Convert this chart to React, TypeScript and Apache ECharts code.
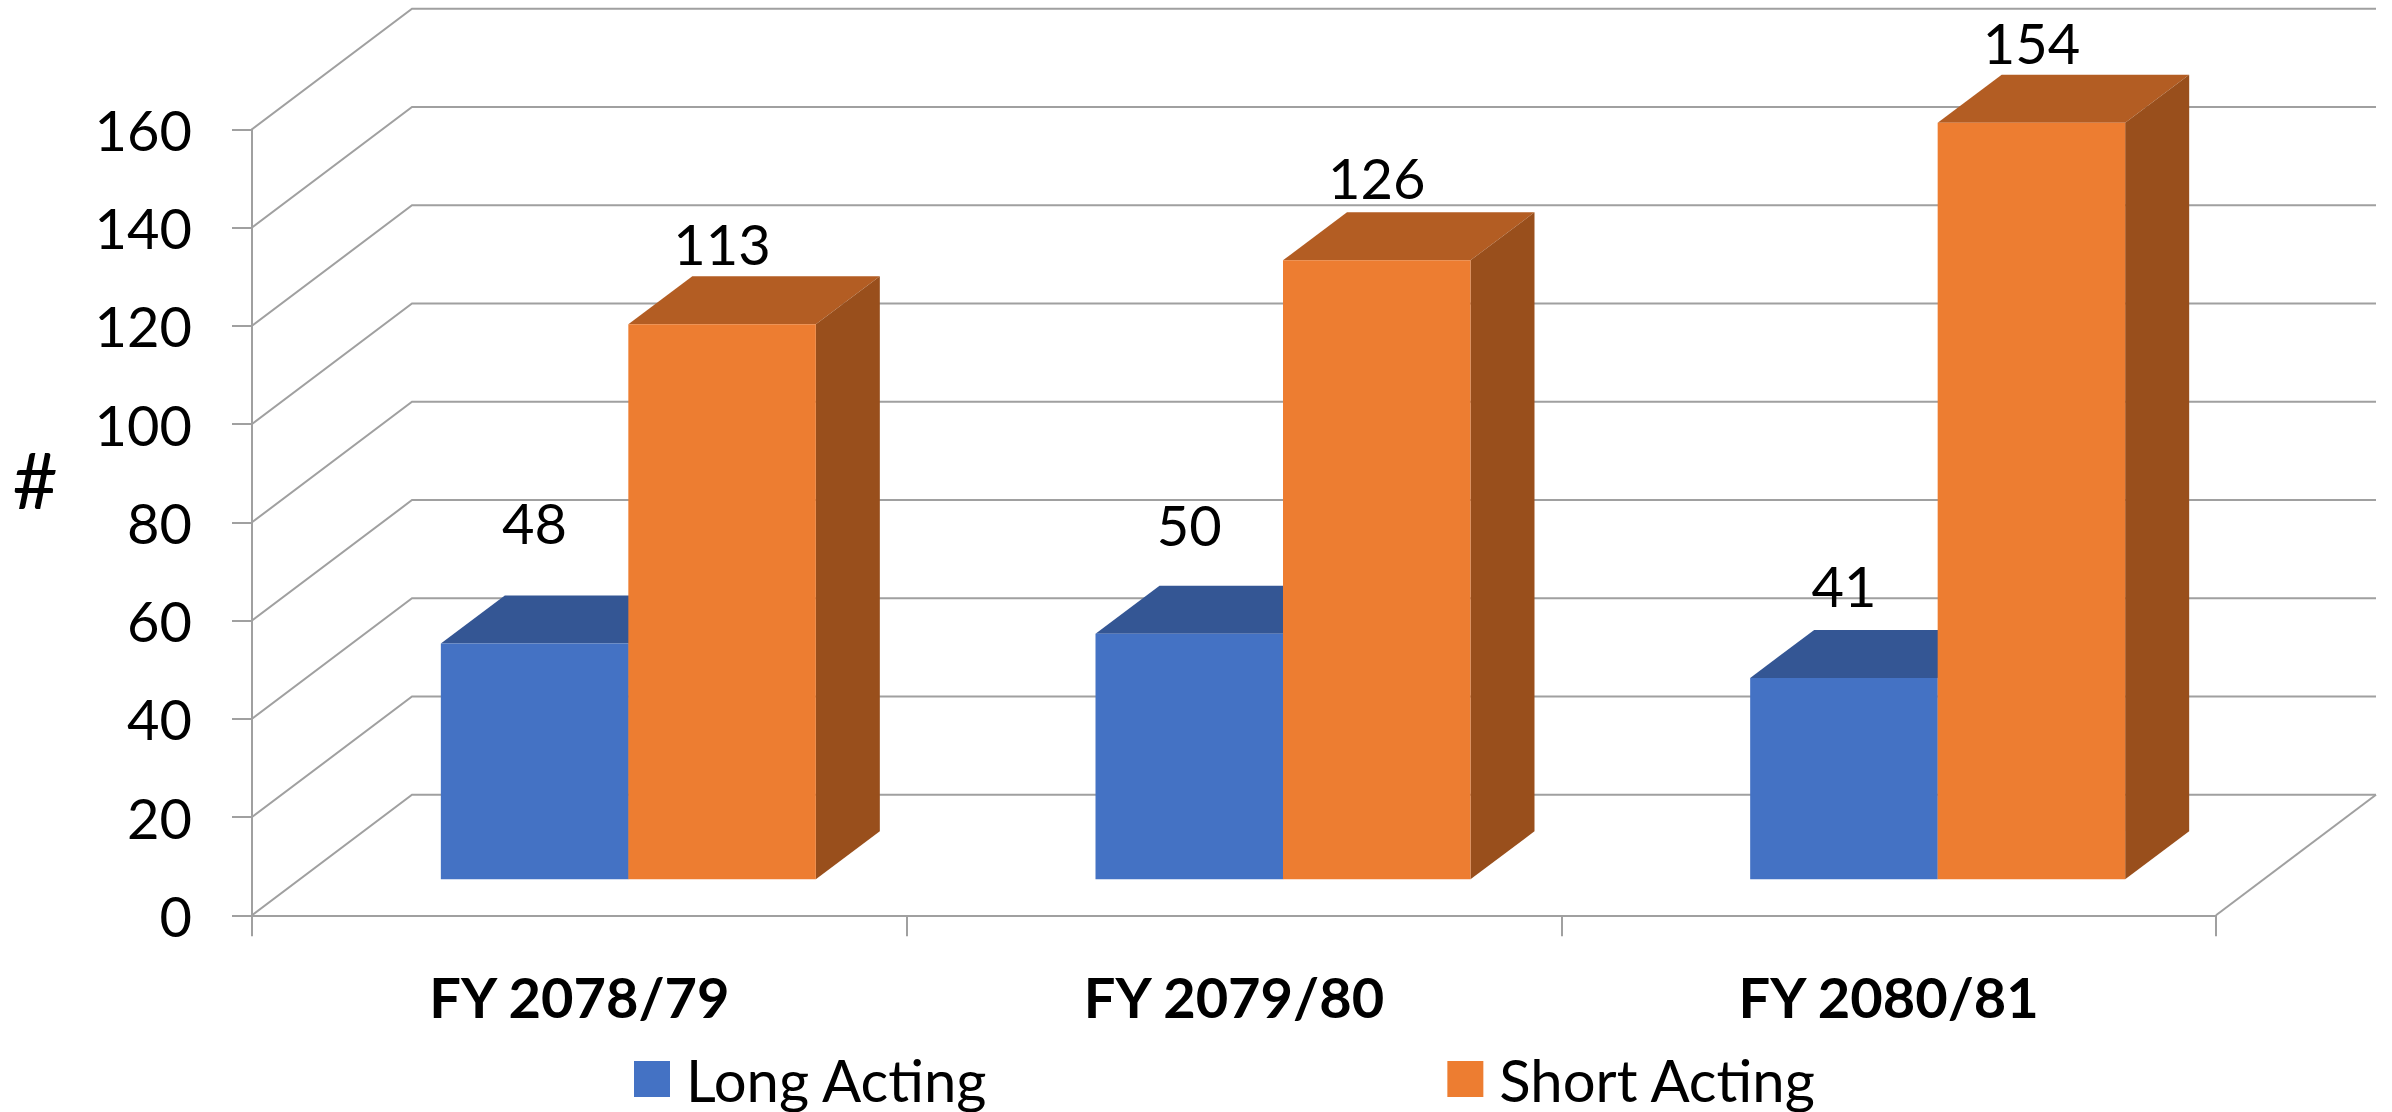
import React, { useEffect, useRef } from "react";
import * as echarts from "echarts";

const categories = ["FY 2078/79", "FY 2079/80", "FY 2080/81"];
const longActing = [48, 50, 41];
const shortActing = [113, 126, 154];
const yTicks = [0, 20, 40, 60, 80, 100, 120, 140, 160];
const longLabelLift = [121, 109, 92];
const shortLabelLift = [81, 83, 80];

const FONT = "Lato";
const GRID_COLOR = "#a0a0a0";
const WALL_DX = 160;
const WALL_DY = 120.5;
const BAR_FRONT_DX = 49;
const BAR_FRONT_DY = 36;
const BAR_DEPTH_DX = 64;
const BAR_DEPTH_DY = 48;
const BAR_SHARE = 0.2864;

const wallRender = (params: any, api: any) => {
  const v = api.value(1);
  const y = api.coord([0, v])[1];
  const { x, width } = params.coordSys;
  const lineStyle = { stroke: GRID_COLOR, lineWidth: 2, fill: "none" };
  const children: any[] = [
    {
      type: "polyline",
      shape: { points: [[x, y], [x + WALL_DX, y - WALL_DY], [x + width + WALL_DX, y - WALL_DY]] },
      style: lineStyle,
    },
  ];
  if (v === 0) {
    children.push({
      type: "line",
      shape: { x1: x + width, y1: y, x2: x + width + WALL_DX, y2: y - WALL_DY },
      style: lineStyle,
    });
  }
  return { type: "group", children };
};

const barRender =
  (side: "left" | "right", front: string, top: string, right: string, lifts: number[]) =>
  (params: any, api: any) => {
    const i = api.value(0);
    const v = api.value(1);
    const [cx, yTop] = api.coord([i, v]);
    const [, yBase] = api.coord([i, 0]);
    const w = api.size([1, 0])[0] * BAR_SHARE;
    const x0 = cx + BAR_FRONT_DX + (side === "left" ? -w : 0);
    const x1 = x0 + w;
    const t = yTop - BAR_FRONT_DY;
    const b = yBase - BAR_FRONT_DY;
    return {
      type: "group",
      children: [
        {
          type: "polygon",
          shape: { points: [[x0, t], [x0 + BAR_DEPTH_DX, t - BAR_DEPTH_DY], [x1 + BAR_DEPTH_DX, t - BAR_DEPTH_DY], [x1, t]] },
          style: { fill: top },
        },
        {
          type: "polygon",
          shape: { points: [[x1, t], [x1 + BAR_DEPTH_DX, t - BAR_DEPTH_DY], [x1 + BAR_DEPTH_DX, b - BAR_DEPTH_DY], [x1, b]] },
          style: { fill: right },
        },
        {
          type: "rect",
          shape: { x: x0, y: t, width: w, height: b - t },
          style: { fill: front },
        },
        {
          type: "text",
          z2: 10,
          style: {
            text: String(v),
            x: (x0 + x1) / 2,
            y: t - lifts[i],
            align: "center",
            verticalAlign: "middle",
            font: `56px ${FONT}`,
            fill: "#000",
          },
        },
      ],
    };
  };

export default function App() {
  const ref = useRef<HTMLDivElement>(null);
  useEffect(() => {
    const chart = echarts.init(ref.current!, null, { renderer: "svg" });
    chart.setOption({
      animation: false,
      backgroundColor: "#ffffff",
      textStyle: { fontFamily: FONT },
      grid: { left: 252, top: 129.3, width: 1964, height: 786, containLabel: false },
      legend: {
        data: ["Long Acting", "Short Acting"],
        left: 634,
        top: 1050,
        padding: 0,
        icon: "rect",
        itemWidth: 36,
        itemHeight: 36,
        itemGap: 459,
        textStyle: { fontFamily: FONT, fontSize: 58, color: "#000", padding: [0, 0, 0, 11] },
        selectedMode: false,
      },
      graphic: [
        {
          type: "text",
          x: 35,
          y: 479,
          style: {
            text: "#",
            align: "center",
            verticalAlign: "middle",
            font: `78px ${FONT}`,
            fill: "#000",
          },
        },
      ],
      xAxis: {
        type: "category",
        data: categories,
        axisLine: { lineStyle: { color: GRID_COLOR, width: 2 } },
        axisTick: { show: true, length: 21, lineStyle: { color: GRID_COLOR, width: 2 } },
        axisLabel: { color: "#000", fontFamily: FONT, fontSize: 56, fontWeight: "bold", margin: 53 },
      },
      yAxis: {
        type: "value",
        min: 0,
        max: 160,
        interval: 20,
        axisLine: { show: true, lineStyle: { color: GRID_COLOR, width: 2 } },
        axisTick: { show: true, length: 20, lineStyle: { color: GRID_COLOR, width: 2 } },
        axisLabel: { color: "#000", fontFamily: FONT, fontSize: 56, margin: 60 },
        splitLine: { show: false },
      },
      series: [
        {
          type: "custom",
          name: "walls",
          silent: true,
          data: yTicks.map((v) => [0, v]),
          encode: { x: 0, y: 1 },
          renderItem: wallRender,
          z: 1,
        },
        {
          type: "custom",
          name: "Long Acting",
          data: longActing.map((v, i) => [i, v]),
          encode: { x: 0, y: 1 },
          itemStyle: { color: "#4472c4" },
          renderItem: barRender("left", "#4472c4", "#345694", "#2f5290", longLabelLift),
          z: 2,
        },
        {
          type: "custom",
          name: "Short Acting",
          data: shortActing.map((v, i) => [i, v]),
          encode: { x: 0, y: 1 },
          itemStyle: { color: "#ed7d31" },
          renderItem: barRender("right", "#ed7d31", "#b35d23", "#994f1c", shortLabelLift),
          z: 3,
        },
      ],
    });
    return () => chart.dispose();
  }, []);
  return <div ref={ref} style={{ position: "absolute", left: 0, top: 0, width: 2392, height: 1112 }} />;
}
